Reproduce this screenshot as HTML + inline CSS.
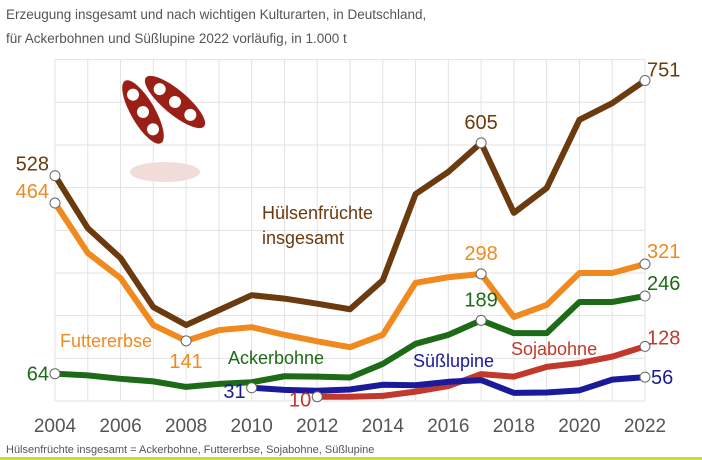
<!DOCTYPE html>
<html><head><meta charset="utf-8"><style>
body{margin:0;background:#fff;}
svg{display:block;font-family:"Liberation Sans","DejaVu Sans",sans-serif;}
</style></head><body>
<svg id="c" width="702" height="460">
<text x="6" y="19" font-size="13.5" fill="#555">Erzeugung insgesamt und nach wichtigen Kulturarten, in Deutschland,</text>
<text x="6" y="43" font-size="13.5" fill="#555">für Ackerbohnen und Süßlupine 2022 vorläufig, in 1.000 t</text>
<g id="grid"></g>
<g id="icon">
<g transform="translate(143,112) rotate(60)">
<ellipse cx="0" cy="0" rx="36" ry="12" fill="#9a1f16"/>
<circle cx="-20" cy="0" r="6" fill="#fff"/><circle cx="0" cy="0" r="6" fill="#fff"/><circle cx="20" cy="0" r="6" fill="#fff"/>
</g>
<g transform="translate(175,102) rotate(40)">
<ellipse cx="0" cy="0" rx="38" ry="12" fill="#9a1f16"/>
<circle cx="-20" cy="0" r="6" fill="#fff"/><circle cx="0" cy="0" r="6" fill="#fff"/><circle cx="20" cy="0" r="6" fill="#fff"/>
</g>
<ellipse cx="165" cy="172" rx="35" ry="10" fill="#f1dcda"/>
</g>
<g id="lines"></g>
<g id="labels"></g>
<text x="6" y="453" font-size="11" fill="#555">Hülsenfrüchte insgesamt = Ackerbohne, Futtererbse, Sojabohne, Süßlupine</text>
<rect x="0" y="457" width="702" height="3" fill="#c8dc3c"/>
</svg>
<script>
const years=[2004,2005,2006,2007,2008,2009,2010,2011,2012,2013,2014,2015,2016,2017,2018,2019,2020,2021,2022];
const huelsen=[528,405,335,220,178,213,248,240,228,215,283,485,537,605,441,499,659,698,751];
const futter=[464,347,288,178,141,166,173,155,140,126,155,277,290,298,197,225,300,300,321];
const acker=[64,60,52,46,33,40,44,58,57,55,87,134,155,189,159,159,232,232,246];
const lupineYears=[2010,2011,2012,2013,2014,2015,2016,2017,2018,2019,2020,2021,2022];
const lupine=[31,26,24,27,38,37,45,49,19,20,25,50,56];
const sojaYears=[2012,2013,2014,2015,2016,2017,2018,2019,2020,2021,2022];
const soja=[10,10,12,22,35,63,57,80,89,104,128];
const xTicks=[2004,2006,2008,2010,2012,2014,2016,2018,2020,2022];
const yGrid=[0,100,200,300,400,500,600,700,800];
const NS='http://www.w3.org/2000/svg';
const X=y=>55+(y-2004)*(590/18);
const Y=v=>401-v*0.4267;
function el(t,a,p){const e=document.createElementNS(NS,t);for(const k in a)e.setAttribute(k,a[k]);document.getElementById(p).appendChild(e);return e;}
for(let y=2004;y<=2022;y++){const l=el('line',{x1:X(y),x2:X(y),y1:Y(800),y2:Y(0),stroke:'#e2e2e2','stroke-width':1},'grid');

}
yGrid.forEach(v=>{const l=el('line',{x1:X(2004),x2:X(2022),y1:Y(v),y2:Y(v),stroke:'#e2e2e2','stroke-width':1},'grid');

});
xTicks.forEach(y=>{const t=el('text',{x:X(y),y:432,'font-size':19,fill:'#555','text-anchor':'middle'},'labels');t.textContent=y;

});
function series(xs,vs,color,name,marks){
 const p=el('polyline',{points:xs.map((y,i)=>X(y)+','+Y(vs[i])).join(' '),fill:'none',stroke:color,'stroke-width':6,'stroke-linejoin':'round'},'lines');
 
 
 marks.forEach(m=>{const i=xs.indexOf(m[0]);const c=el('circle',{cx:X(m[0]),cy:Y(vs[i]),r:5,fill:'#fff',stroke:'#666','stroke-width':1},'labels');
  
  
  const t=el('text',{x:X(m[0])+m[1],y:Y(vs[i])+m[2],'font-size':20,fill:color,'text-anchor':m[3]},'labels');t.textContent=vs[i];
  
  });
}
series(years,huelsen,'#6b3a0e','huelsenfruechte',[[2004,-6,-5,'end'],[2017,0,-14,'middle'],[2022,2,-4,'start']]);
series(years,futter,'#f0891f','futtererbse',[[2004,-6,-5,'end'],[2008,0,27,'middle'],[2017,0,-14,'middle'],[2022,2,-6,'start']]);
series(years,acker,'#1d6b16','ackerbohne',[[2004,-6,7,'end'],[2017,0,-14,'middle'],[2022,2,-6,'start']]);
series(sojaYears,soja,'#c0392b','sojabohne',[[2012,-6,10,'end'],[2022,2,-2,'start']]);
series(lupineYears,lupine,'#1a1a9a','suesslupine',[[2010,-6,10,'end'],[2022,6,7,'start']]);
[['Hülsenfrüchte',262,219,'#6b3a0e','huelsen-name'],['insgesamt',262,244,'#6b3a0e','huelsen-name2'],['Futtererbse',60,347,'#f0891f','futter-name'],['Ackerbohne',228,364,'#1d6b16','acker-name'],['Süßlupine',413,367,'#1a1a9a','lupine-name'],['Sojabohne',511,355,'#c0392b','soja-name']].forEach(a=>{
 const t=el('text',{x:a[1],y:a[2],'font-size':18,fill:a[3]},'labels');t.textContent=a[0];
 
 });
</script>
</body></html>
